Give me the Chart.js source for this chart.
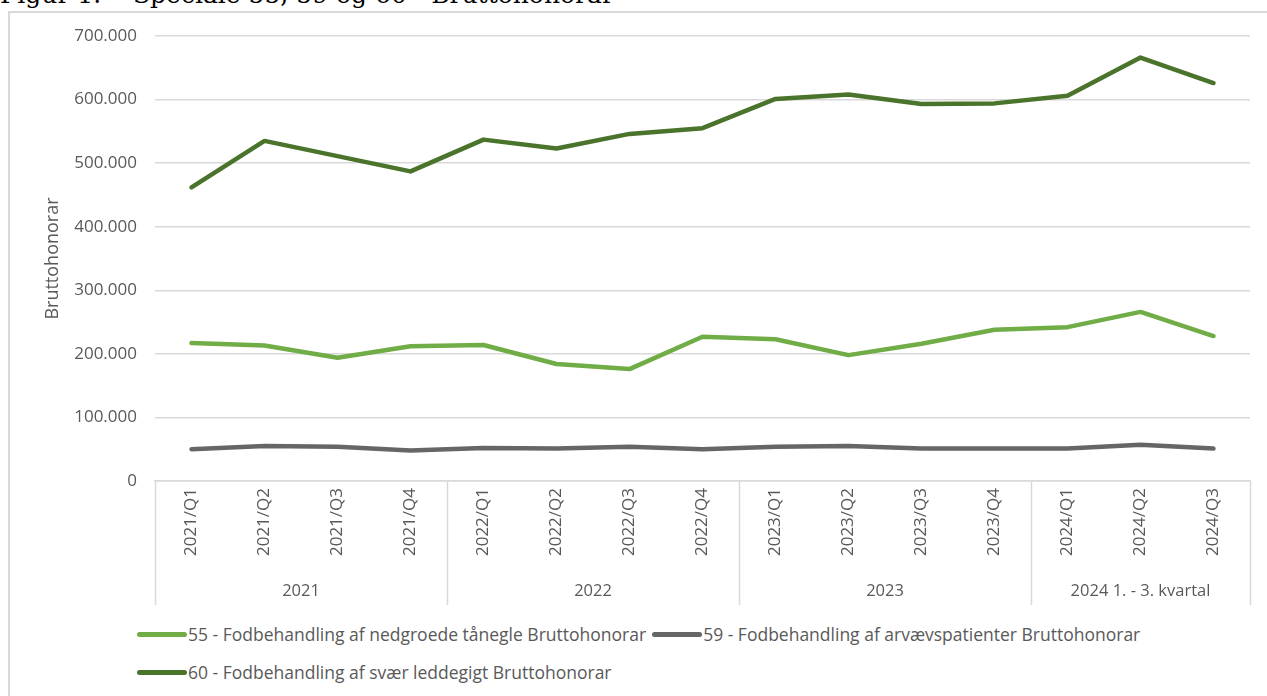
<!DOCTYPE html>
<html lang="da">
<head>
<meta charset="utf-8">
<title>Speciale 55, 59 og 60 - Bruttohonorar</title>
<script src="https://cdn.jsdelivr.net/npm/chart.js@4.4.1/dist/chart.umd.min.js"></script>
<style>
    html, body { margin: 0; padding: 0; background: #fff; overflow: hidden; }
    body { width: 1267px; height: 696px; position: relative; }
    #titel {
        position: absolute; left: 0; top: -20px;
        font-family: "DejaVu Serif", "Liberation Serif", serif;
        font-size: 25px; line-height: 30px; color: #000; white-space: pre;
    }
    #ramme {
        position: absolute; left: 8px; top: 11px; width: 1320px; height: 720px;
        border: 2px solid #d9d9d9; box-sizing: border-box;
    }
    #graf { position: absolute; left: 0; top: 0; }
    #legende {
        position: absolute; left: 137px; top: 615px; width: 1120px;
        font-family: "Open Sans", "Noto Sans", sans-serif; font-size: 17.5px; color: #595959;
    }
    .legende-raekke { display: flex; align-items: center; height: 38px; }
    .legende-punkt { display: flex; align-items: center; height: 26px; margin-right: 6px; white-space: nowrap; }
    .legende-streg { display: inline-block; width: 50px; height: 5px; border-radius: 3px; margin-right: 1px; }
</style>
</head>
<body>
<div id="titel">Figur 1.    Speciale 55, 59 og 60 - Bruttohonorar</div>
<div id="ramme"></div>
<canvas id="graf" width="1267" height="612"></canvas>
<div id="legende"></div>
<script>
// Kvartaler paa x-aksen
const kvartaler = [
    '2021/Q1', '2021/Q2', '2021/Q3', '2021/Q4',
    '2022/Q1', '2022/Q2', '2022/Q3', '2022/Q4',
    '2023/Q1', '2023/Q2', '2023/Q3', '2023/Q4',
    '2024/Q1', '2024/Q2', '2024/Q3'
];
// Aarsgrupper under kvartalerne
const aarGrupper = ['2021', '2022', '2023', '2024 1. - 3. kvartal'];
const gruppeStoerrelse = [4, 4, 4, 3];

// Bruttohonorar pr. speciale (aflaest fra figuren)
const speciale55 = [217000, 213000, 194000, 212000, 214000, 184000, 176000, 227000, 223000, 198000, 216000, 238000, 242000, 266000, 228000];
const speciale59 = [50000, 55000, 54000, 48000, 52000, 51000, 54000, 50000, 54000, 55000, 51000, 51000, 51000, 57000, 51000];
const speciale60 = [462000, 535000, 511000, 487000, 537000, 523000, 546000, 555000, 601000, 608000, 593000, 594000, 606000, 666000, 626000];

const serieNavne = [
    '55 - Fodbehandling af nedgroede tånegle Bruttohonorar',
    '59 - Fodbehandling af arvævspatienter Bruttohonorar',
    '60 - Fodbehandling af svær leddegigt Bruttohonorar'
];
const serieFarver = ['#70ad47', '#666666', '#4a742b'];
// hvilke serier staar paa hvilken raekke i legenden
const legendeRaekker = [[0, 1], [2]];

const yMax = 700000;
const yTrin = 100000;

const tekstFont = '"Open Sans", "Noto Sans", sans-serif';
const graa = '#595959';

function formaterTal(v) {
    // dansk tusindtalsseparator
    return String(v).replace(/\B(?=(\d{3})+(?!\d))/g, '.');
}

// Tegner aarsgrupperne og skillelinjerne under kvartalerne
const aarPlugin = {
    id: 'aarGrupper',
    afterDraw(chart) {
        const x = chart.scales.x;
        const ctx = chart.ctx;
        const bund = x.top;
        const halv = (x.getPixelForValue(1) - x.getPixelForValue(0)) / 2;
        ctx.save();
        ctx.strokeStyle = '#d9d9d9';
        ctx.lineWidth = 1.5;
        ctx.fillStyle = graa;
        ctx.font = '16.5px ' + tekstFont;
        ctx.textAlign = 'center';
        ctx.textBaseline = 'middle';
        let start = 0;
        const graenser = [x.getPixelForValue(0) - halv];
        aarGrupper.forEach((aar, i) => {
            const slut = start + gruppeStoerrelse[i] - 1;
            const venstre = x.getPixelForValue(start) - halv;
            const hoejre = x.getPixelForValue(slut) + halv;
            graenser.push(hoejre);
            ctx.fillText(aar, (venstre + hoejre) / 2, bund + 110);
            start = slut + 1;
        });
        graenser.forEach((gx) => {
            ctx.beginPath();
            ctx.moveTo(Math.round(gx) + 0.5, bund);
            ctx.lineTo(Math.round(gx) + 0.5, bund + 124);
            ctx.stroke();
        });
        ctx.restore();
    }
};

const datasets = [speciale55, speciale59, speciale60].map((data, i) => ({
    label: serieNavne[i],
    data: data,
    borderColor: serieFarver[i],
    backgroundColor: serieFarver[i],
    borderWidth: 4.5,
    borderCapStyle: 'round',
    borderJoinStyle: 'round',
    pointRadius: 0,
    tension: 0,
    fill: false
}));

const ctx = document.getElementById('graf').getContext('2d');
new Chart(ctx, {
    type: 'line',
    data: { labels: kvartaler, datasets: datasets },
    options: {
        responsive: false,
        animation: false,
        layout: { padding: { top: 36, right: 17, bottom: 0, left: 0 } },
        plugins: {
            legend: { display: false },
            tooltip: { enabled: false }
        },
        scales: {
            x: {
                offset: true,
                grid: { display: false, drawTicks: false, offset: true },
                border: { display: true, color: '#d9d9d9', width: 1.5 },
                ticks: {
                    minRotation: 90, maxRotation: 90, padding: 7,
                    color: graa, font: { family: tekstFont, size: 17 }
                },
                afterFit(scale) { scale.height = 131; }
            },
            y: {
                min: 0, max: yMax,
                grid: { color: '#d9d9d9', lineWidth: 1.5, drawTicks: false },
                border: { display: false },
                ticks: {
                    stepSize: yTrin, padding: 18,
                    color: graa, font: { family: tekstFont, size: 17 },
                    callback: (v) => formaterTal(v)
                },
                title: {
                    display: true, text: 'Bruttohonorar', color: graa,
                    font: { family: tekstFont, size: 18 },
                    padding: { top: 42, bottom: 0 }
                },
                afterFit(scale) { scale.width = 155; }
            }
        }
    },
    plugins: [aarPlugin]
});

// Legende som i Excel-figuren
const legende = document.getElementById('legende');
legendeRaekker.forEach((raekke) => {
    const linje = document.createElement('div');
    linje.className = 'legende-raekke';
    raekke.forEach((i) => {
        const punkt = document.createElement('span');
        punkt.className = 'legende-punkt';
        const streg = document.createElement('span');
        streg.className = 'legende-streg';
        streg.style.backgroundColor = serieFarver[i];
        punkt.appendChild(streg);
        punkt.appendChild(document.createTextNode(serieNavne[i]));
        linje.appendChild(punkt);
    });
    legende.appendChild(linje);
});
</script>
</body>
</html>
